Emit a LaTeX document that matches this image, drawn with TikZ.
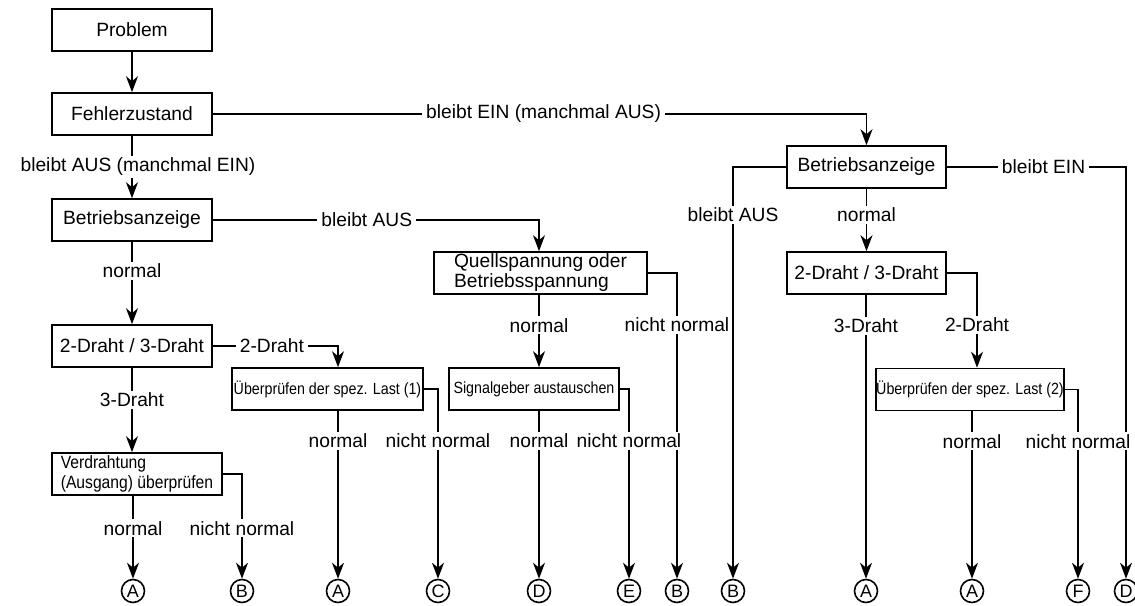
\documentclass[tikz,border=0pt]{standalone}
\usepackage{fontspec}
\setmainfont{Liberation Sans}
\newfontfamily\narrowfont[FakeStretch=0.88]{Liberation Sans}
\usetikzlibrary{arrows.meta}
\begin{document}
\begin{tikzpicture}[
    x=0.5pt, y=-0.5pt,
    line width=0.8pt,
    font=\fontsize{9.6}{10}\selectfont,
    box/.style={draw,rectangle,inner sep=0pt,minimum width=80pt,minimum height=21pt},
    smallbox/.style={box,font=\narrowfont\fontsize{8.1}{9}\selectfont},
    endpt/.style={draw,circle,inner sep=0pt,minimum size=11.5pt,font=\fontsize{9}{9}\selectfont},
    lbl/.style={fill=white,inner xsep=2pt,inner ysep=1pt},
    arr/.style={-{Stealth[length=8pt,width=6pt,inset=2.5pt]}}
  ]
  \useasboundingbox (0,0) rectangle (1135,605);

  % boxes
  \node[box] (prob) at (132,30) {Problem};
  \node[box] (fehler) at (132,114) {Fehlerzustand};
  \node[box] (betr1) at (132,220) {Betriebsanzeige};
  \node[box] (draht1) at (132,346) {2-Draht / 3-Draht};
  \node[box,minimum width=85pt,align=left,font=\narrowfont\fontsize{8.9}{10}\selectfont] (verd) at (137,474) {Verdrahtung\\(Ausgang) überprüfen};
  \node[smallbox,minimum width=95.5pt] (uber1) at (327.5,389) {Überprüfen der spez. Last (1)};
  \node[box,minimum width=106.5pt,align=left] (quell) at (540.5,273) {Quellspannung oder\\Betriebsspannung};
  \node[smallbox,minimum width=85pt] (signal) at (534,389) {Signalgeber austauschen};
  \node[box,minimum width=79.5pt] (betr2) at (866.5,167) {Betriebsanzeige};
  \node[box,minimum width=79.5pt] (draht2) at (866.5,273) {2-Draht / 3-Draht};
  \node[smallbox,minimum width=91pt] (uber2) at (970,389.5) {Überprüfen der spez. Last (2)};

  % end points
  \foreach \n/\x/\t in {A1/133/A, B1/242/B, A2/338/A, C/438/C, D1/539/D, E/629/E,
                        B2/677/B, B3/733/B, A3/866/A, A4/972/A, F/1078/F, D2/1126/D}
    \node[endpt] (end\n) at (\x,591) {\t};

  % left branch
  \draw[arr] (prob) -- (fehler);
  \draw[arr] (fehler) -- node[lbl,xshift=3pt]{bleibt AUS (manchmal EIN)} (betr1);
  \draw[arr] (betr1) -- node[lbl,pos=0.35]{normal} (draht1);
  \draw[arr] (draht1.south) -- node[lbl,pos=0.38]{3-Draht} (draht1.south |- verd.north);
  \draw[arr] (verd.south -| endA1) -- node[lbl,pos=0.39]{normal} (endA1);
  \draw[arr] (verd) -| node[lbl,pos=0.76]{nicht normal} (endB1);
  \draw[arr] (draht1) -| node[lbl,pos=0.236]{2-Draht} ([xshift=5.25pt]uber1.north);
  \draw[arr] (uber1.south -| endA2) -- node[lbl,pos=0.18]{normal} (endA2);
  \draw[arr] (uber1) -| node[lbl,pos=0.637]{nicht normal} (endC);

  % middle branch
  \draw[arr] (betr1) -| node[lbl,pos=0.236]{bleibt AUS} (quell.north -| endD1);
  \draw[arr] (quell.south -| endD1) -- node[lbl,pos=0.42]{normal} (signal.north -| endD1);
  \draw[arr] (quell) -| node[lbl,pos=0.585]{nicht normal} (endB2);
  \draw[arr] (signal.south -| endD1) -- node[lbl,pos=0.18]{normal} (endD1);
  \draw[arr] (signal) -| node[lbl,pos=0.637]{nicht normal} (endE);

  % right branch
  \draw[arr] (fehler) -| node[lbl,pos=0.253]{bleibt EIN (manchmal AUS)} (betr2);
  \draw[arr] (betr2) -| node[lbl,pos=0.558]{bleibt AUS} (endB3);
  \draw[arr] (betr2) -| node[lbl,pos=0.27]{bleibt EIN} (endD2);
  \draw[arr] (betr2) -- node[lbl,pos=0.42]{normal} (draht2);
  \draw[arr] (draht2.south -| endA3) -- node[lbl,pos=0.11]{3-Draht} (endA3);
  \draw[arr] (draht2) -| node[lbl,pos=0.775]{2-Draht} ([xshift=3.5pt]uber2.north);
  \draw[arr] (uber2.south -| endA4) -- node[lbl,pos=0.18]{normal} (endA4);
  \draw[arr] (uber2) -| node[lbl,pos=0.637]{nicht normal} (endF);
\end{tikzpicture}
\end{document}
